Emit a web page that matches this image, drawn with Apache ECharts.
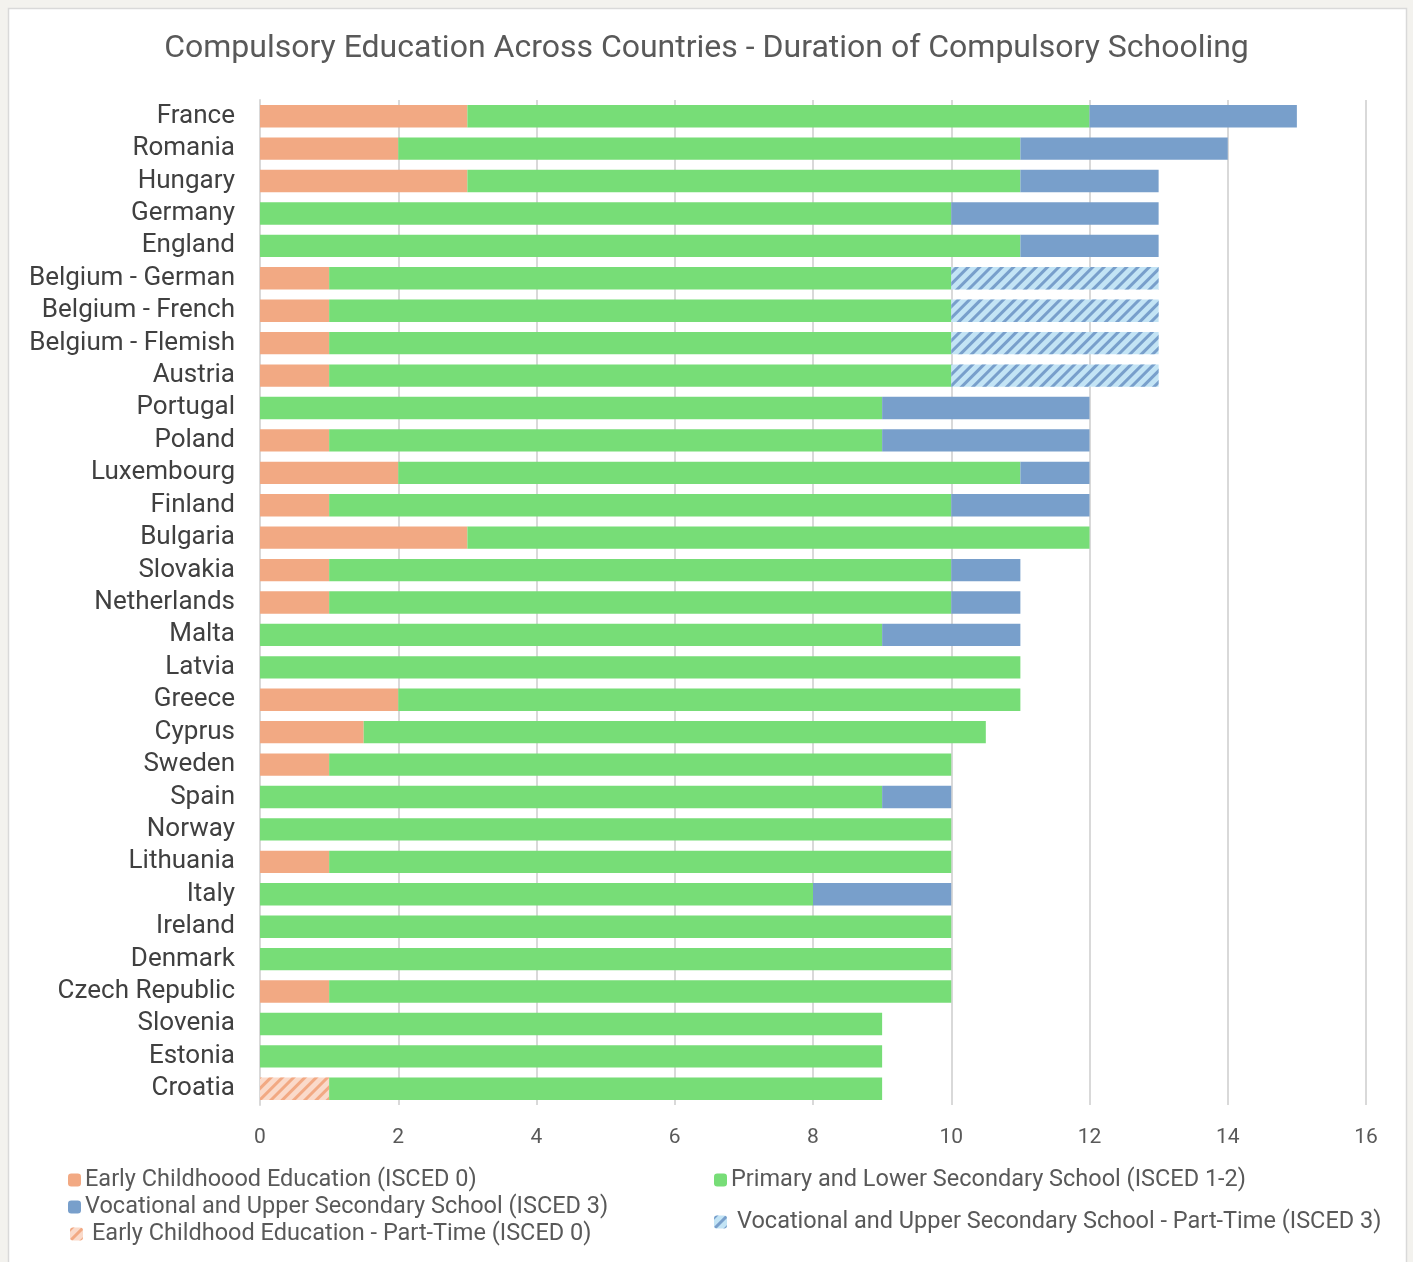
<!DOCTYPE html>
<html>
<head>
<meta charset="utf-8">
<script src="https://cdn.jsdelivr.net/npm/echarts@6/dist/echarts.min.js"></script>
<style>
  html, body { margin: 0; padding: 0; background: #F3F2EE; }
  #chart { width: 1413px; height: 1262px; }
</style>
</head>
<body>
<div id="chart"></div>
<script>
// countries, top to bottom
const countries = ['France', 'Romania', 'Hungary', 'Germany', 'England', 'Belgium - German', 'Belgium - French',
  'Belgium - Flemish', 'Austria', 'Portugal', 'Poland', 'Luxembourg', 'Finland', 'Bulgaria', 'Slovakia',
  'Netherlands', 'Malta', 'Latvia', 'Greece', 'Cyprus', 'Sweden', 'Spain', 'Norway', 'Lithuania', 'Italy',
  'Ireland', 'Denmark', 'Czech Republic', 'Slovenia', 'Estonia', 'Croatia'];

// years per stage ('-' = none)
const earlyChildhood = [3, 2, 3, '-', '-', 1, 1, 1, 1, '-', 1, 2, 1, 3, 1, 1, '-', '-', 2, 1.5, 1, '-', '-', 1, '-', '-', '-', 1, '-', '-', '-'];
const earlyPartTime = ['-', '-', '-', '-', '-', '-', '-', '-', '-', '-', '-', '-', '-', '-', '-', '-', '-', '-', '-', '-', '-', '-', '-', '-', '-', '-', '-', '-', '-', '-', 1];
const primaryLower = [9, 9, 8, 10, 11, 9, 9, 9, 9, 9, 8, 9, 9, 9, 9, 9, 9, 11, 9, 9, 9, 9, 10, 9, 8, 10, 10, 9, 9, 9, 8];
const vocational = [3, 3, 2, 3, 2, '-', '-', '-', '-', 3, 3, 1, 2, '-', 1, 1, 2, '-', '-', '-', '-', 1, '-', '-', 2, '-', '-', '-', '-', '-', '-'];
const vocationalPartTime = ['-', '-', '-', '-', '-', 3, 3, 3, 3, '-', '-', '-', '-', '-', '-', '-', '-', '-', '-', '-', '-', '-', '-', '-', '-', '-', '-', '-', '-', '-', '-'];

const xTicks = [0, 2, 4, 6, 8, 10, 12, 14, 16];

const chart = echarts.init(document.getElementById('chart'));

const FONT = 'Roboto';
const hatch = (color) => ({
  symbol: 'rect',
  symbolSize: 1,
  dashArrayX: [1, 0],
  dashArrayY: [3, 5],
  rotation: -Math.PI / 4,
  color: color
});

const mkLegend = (name, left, top, padLeft) => ({
  data: [name],
  left: left,
  top: top,
  itemWidth: 13,
  itemHeight: 13,
  padding: 0,
  textStyle: { fontFamily: FONT, fontSize: 23.5, color: '#595959', padding: [0, 0, 0, padLeft] }
});

const option = {
  backgroundColor: '#F3F2EE',
  animation: false,
  graphic: [{
    type: 'rect',
    shape: { x: 8.5, y: 8.5, width: 1398, height: 1270 },
    style: { fill: '#ffffff', stroke: '#D9D9D9', lineWidth: 1.5 },
    z: -10
  }],
  title: {
    text: 'Compulsory Education Across Countries - Duration of Compulsory Schooling',
    left: 'center',
    top: 28,
    textStyle: { fontFamily: FONT, fontSize: 32, fontWeight: 'normal', color: '#595959' }
  },
  legend: [
    mkLegend('Early Childhoood Education (ISCED 0)', 68, 1168, -1),
    mkLegend('Primary and Lower Secondary School (ISCED 1-2)', 714, 1168, -1),
    mkLegend('Vocational and Upper Secondary School (ISCED 3)', 68, 1195, -1),
    mkLegend('Early Childhood Education - Part-Time (ISCED 0)', 70, 1222, 4),
    mkLegend('Vocational and Upper Secondary School - Part-Time (ISCED 3)', 714, 1210, 5)
  ],
  grid: { left: 260, right: 47, top: 100, bottom: 157 },
  xAxis: {
    type: 'value',
    min: 0,
    max: 16,
    interval: 2,
    axisLine: { show: false },
    axisTick: { show: false },
    axisLabel: {
      fontFamily: FONT, fontSize: 21, color: '#595959', margin: 22,
      formatter: (v) => xTicks.includes(v) ? String(v) : ''
    },
    splitLine: { lineStyle: { color: '#D9D9D9', width: 2 } }
  },
  yAxis: {
    type: 'category',
    data: countries,
    inverse: true,
    axisLine: { show: true, lineStyle: { color: '#D9D9D9', width: 2 } },
    axisTick: { show: false },
    axisLabel: { interval: 0, fontFamily: FONT, fontSize: 26, color: '#404040', margin: 25 }
  },
  series: [
    {
      name: 'Early Childhoood Education (ISCED 0)',
      type: 'bar', stack: 'total', barCategoryGap: '31%',
      itemStyle: { color: '#F2A983' },
      data: earlyChildhood
    },
    {
      name: 'Early Childhood Education - Part-Time (ISCED 0)',
      type: 'bar', stack: 'total', barCategoryGap: '31%',
      itemStyle: { color: '#FADACA', decal: hatch('#F2A983') },
      data: earlyPartTime
    },
    {
      name: 'Primary and Lower Secondary School (ISCED 1-2)',
      type: 'bar', stack: 'total', barCategoryGap: '31%',
      itemStyle: { color: '#77DD77' },
      data: primaryLower
    },
    {
      name: 'Vocational and Upper Secondary School (ISCED 3)',
      type: 'bar', stack: 'total', barCategoryGap: '31%',
      itemStyle: { color: '#789FCB' },
      data: vocational
    },
    {
      name: 'Vocational and Upper Secondary School - Part-Time (ISCED 3)',
      type: 'bar', stack: 'total', barCategoryGap: '31%',
      itemStyle: { color: '#C3E4F5', decal: hatch('#789FCB') },
      data: vocationalPartTime
    }
  ]
};

chart.setOption(option);
</script>
</body>
</html>
